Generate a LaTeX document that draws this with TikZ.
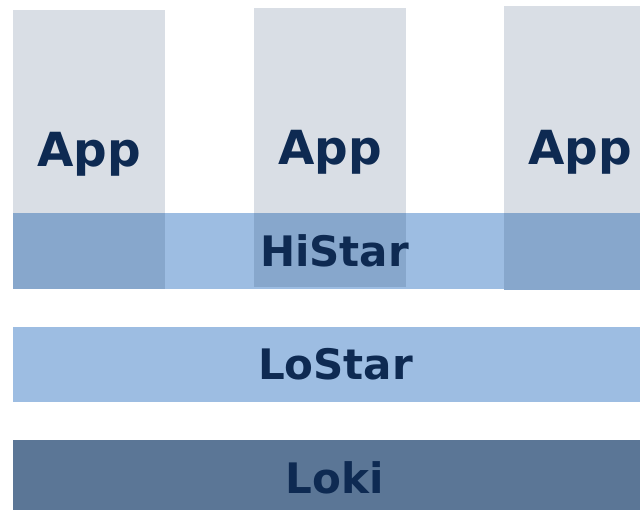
\documentclass[tikz,border=0pt]{standalone}
\usepackage{fontspec}
\newfontfamily\labelfont{DejaVu Sans}
\definecolor{appgray}{HTML}{D9DEE5}
\definecolor{bandblue}{HTML}{9DBDE2}
\definecolor{overlapblue}{HTML}{87A7CC}
\definecolor{lokiblue}{HTML}{5B7696}
\definecolor{inkblue}{HTML}{0E2A52}
\tikzset{
  box/.style={rectangle, draw=none, inner sep=0pt, outer sep=0pt, anchor=north west},
  appbox/.style={box, fill=appgray},
  bandbox/.style={box, fill=bandblue},
  overlap/.style={box, fill=overlapblue},
  apptext/.style={anchor=base, inner sep=0pt, text=inkblue, font=\labelfont\bfseries\fontsize{47}{47}\selectfont},
  layertext/.style={anchor=base, inner sep=0pt, text=inkblue, font=\labelfont\bfseries\fontsize{42}{42}\selectfont}
}
\begin{document}
\begin{tikzpicture}[x=1pt,y=-1pt]
  \fill[white] (0,0) rectangle (640,510);
  % application columns
  \node[appbox, minimum width=152pt, minimum height=279pt] (app1) at (13,10) {};
  \node[appbox, minimum width=152pt, minimum height=279pt] (app2) at (254,8) {};
  \node[appbox, minimum width=136pt, minimum height=284pt] (app3) at (504,6) {};
  % HiStar band and the parts where it crosses the columns
  \node[bandbox, minimum width=627pt, minimum height=76pt] (histar) at (13,213) {};
  \node[overlap, minimum width=152pt, minimum height=76pt] (ov1) at (13,213) {};
  \node[overlap, minimum width=152pt, minimum height=74pt] (ov2) at (254,213) {};
  \node[overlap, minimum width=136pt, minimum height=77pt] (ov3) at (504,213) {};
  % lower layers
  \node[bandbox, minimum width=627pt, minimum height=75pt] (lostar) at (13,327.5) {};
  \node[box, fill=lokiblue, minimum width=627pt, minimum height=70pt] (loki) at (13,440) {};
  % labels
  \node[apptext] (t1) at (89,167) {App};
  \node[apptext] (t2) at (330,165) {App};
  \node[apptext] (t3) at (580,165) {App};
  \node[layertext] (th) at (334.5,267) {HiStar};
  \node[layertext] (tl) at (335.5,380) {LoStar};
  \node[layertext] (tk) at (334.5,493) {Loki};
\end{tikzpicture}
\end{document}
